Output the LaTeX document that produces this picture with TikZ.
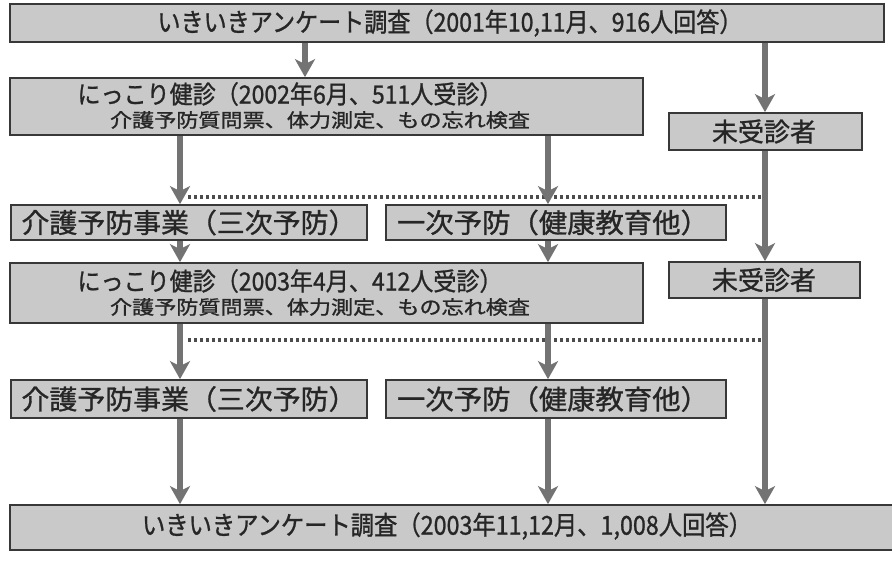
\documentclass[tikz,border=0pt]{standalone}
\usepackage{fontspec}
\usetikzlibrary{arrows.meta,calc}
\newfontfamily\jp[FakeBold=1.1]{Noto Sans CJK JP}
\newcommand{\fs}[1]{\fontsize{#1}{#1}\selectfont}
\newcommand{\fitt}[3]{\resizebox{#1pt}{\height}{\fontsize{#2}{#2}\selectfont #3}}
\begin{document}
\begin{tikzpicture}[x=1pt,y=-1pt,
  box/.style={draw=black!78,line width=1.7pt,fill=black!21,inner sep=0pt,font=\jp},
  txt/.style={inner sep=0pt,font=\jp,text=black!85},
  arr/.style={draw=black!55,line width=6pt,-{Stealth[length=18pt,width=20pt,inset=5pt]}},
  dotline/.style={draw=black!70,line width=3.5pt,dash pattern=on 3pt off 3pt}]
\useasboundingbox (0,0) rectangle (892,573);
\fill[white] (0,0) rectangle (892,573);
% boxes
\node[box,minimum width=874,minimum height=38] (top) at (447,23) {};
\node[box,minimum width=633,minimum height=57] (k1) at (326.5,106.5) {};
\node[box,minimum width=193,minimum height=37] (m1) at (765.5,131.5) {};
\node[box,minimum width=356,minimum height=35] (a1) at (189,222.5) {};
\node[box,minimum width=340,minimum height=35] (b1) at (556,222.5) {};
\node[box,minimum width=633,minimum height=60] (k2) at (326.5,293) {};
\node[box,minimum width=191,minimum height=36] (m2) at (764.5,280) {};
\node[box,minimum width=356,minimum height=38] (a2) at (189,399) {};
\node[box,minimum width=340,minimum height=38] (b2) at (556,399) {};
\node[box,minimum width=884,minimum height=45] (bot) at (452,527.5) {};
% texts
\node[txt] (ttop) at (450,23) {\fitt{585}{26}{いきいきアンケート調査（2001年10,11月、916人回答）}};
\node[txt] (tk1a) at (290,94) {\fitt{425}{25}{にっこり健診（2002年6月、511人受診）}};
\node[txt] (tk1b) at (320,120) {\fitt{420}{19}{介護予防質問票、体力測定、もの忘れ検査}};
\node[txt] (tm1) at (764,131.5) {\fs{26}未受診者};
\node[txt] (ta1) at (189,222.5) {\fitt{335}{27}{介護予防事業（三次予防）}};
\node[txt] (tb1) at (553,222.5) {\fitt{312}{27}{一次予防（健康教育他）}};
\node[txt] (tk2a) at (290,281) {\fitt{425}{25}{にっこり健診（2003年4月、412人受診）}};
\node[txt] (tk2b) at (320,307) {\fitt{420}{19}{介護予防質問票、体力測定、もの忘れ検査}};
\node[txt] (tm2) at (764,280) {\fs{26}未受診者};
\node[txt] (ta2) at (189,399) {\fitt{335}{27}{介護予防事業（三次予防）}};
\node[txt] (tb2) at (553,399) {\fitt{312}{27}{一次予防（健康教育他）}};
\node[txt] (tbot) at (447,526) {\fitt{610}{26}{いきいきアンケート調査（2003年11,12月、1,008人回答）}};
% connectors
\coordinate (xa) at (305,0);
\coordinate (xl) at (180,0);
\coordinate (xr) at (548,0);
\coordinate (xm) at (765,0);
\coordinate (d1l) at (188,197);
\coordinate (d1r) at (765,197);
\coordinate (d2l) at (188,340);
\coordinate (d2r) at (765,340);
\draw[dotline] (d1l) -- (d1r);
\draw[dotline] (d2l) -- (d2r);
\draw[arr] (top.south -| xa) -- (k1.north -| xa);
\draw[arr] (top.south -| xm) -- (m1.north -| xm);
\draw[arr] (m1.south -| xm) -- (m2.north -| xm);
\draw[arr] (m2.south -| xm) -- (bot.north -| xm);
\draw[arr] (k1.south -| xl) -- (a1.north -| xl);
\draw[arr] (k1.south -| xr) -- (b1.north -| xr);
\draw[arr] (a1.south -| xl) -- (k2.north -| xl);
\draw[arr] (b1.south -| xr) -- (k2.north -| xr);
\draw[arr] (k2.south -| xl) -- (a2.north -| xl);
\draw[arr] (k2.south -| xr) -- (b2.north -| xr);
\draw[arr] (a2.south -| xl) -- (bot.north -| xl);
\draw[arr] (b2.south -| xr) -- (bot.north -| xr);
\end{tikzpicture}
\end{document}
